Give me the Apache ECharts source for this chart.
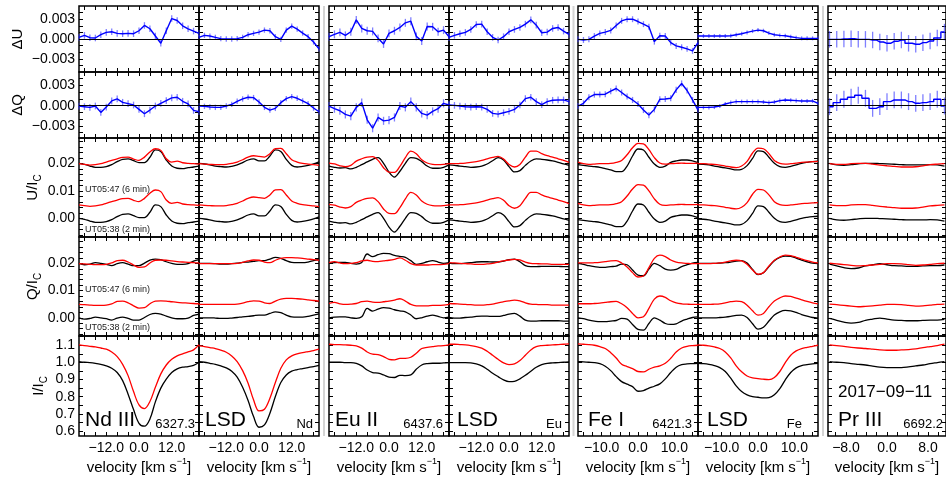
<!DOCTYPE html>
<html><head><meta charset="utf-8">
<script src="https://cdn.jsdelivr.net/npm/echarts@6/dist/echarts.min.js"></script>
<style>html,body{margin:0;padding:0;background:#fff}#c{width:946px;height:479px}</style>
</head><body><div id="c"></div>
<script>
const FONT = "'Liberation Sans', Arial, Helvetica, sans-serif";

// velocity grids (km/s)
const velNdEu = [-22,-20,-18,-16,-14,-12,-10,-8,-6,-4,-2,0,2,4,6,8,10,12,14,16,18,20,22];
const velFe = [-16.5,-15,-13.5,-12,-10.5,-9,-7.5,-6,-4.5,-3,-1.5,0,1.5,3,4.5,6,7.5,9,10.5,12,13.5,15,16.5];
const velPr = [-11.2,-9.8,-8.4,-7,-5.6,-4.2,-2.8,-1.4,0,1.4,2.8,4.2,5.6,7,8.4,9.8,11.2];

// ---- Nd III 6327.3 (values of dU,dQ,U,Q in units of 1e-3) ----
const dU_NdIII = [0.25,0.55,0.2,0.15,0.65,1.0,1.1,0.85,0.8,0.85,0.8,1.25,2.05,1.55,0.45,-0.65,1.25,3.1,2.8,2.0,1.55,1.2,0.85];
const dQ_NdIII = [-0.05,-0.15,-0.25,-0.05,-1.0,-0.2,0.7,1.0,0.5,0.3,0.1,-0.55,-1.2,-0.65,-0.05,0.35,0.75,1.15,1.25,0.65,0.25,-0.7,-0.9];
const Ub_NdIII = [0,-0.35,-1.0,-1.45,-1.45,-1.2,-0.5,0.6,1.45,1.6,0.95,0.25,0.25,2.2,4.85,4.25,1.2,-1.0,-1.8,-1.95,-1.6,-1.35,-1.0];
const Ur_NdIII = [4.85,4.6,4.35,4.5,4.85,5.45,6.05,6.65,7.15,7.25,6.55,6.05,7.25,9.1,10.3,9.7,6.65,5.45,5.8,5.2,4.95,4.85,4.7];
const Qb_NdIII = [0,-0.5,-0.25,0.25,0,-0.35,-0.85,-0.1,0.25,-0.25,-0.85,-0.85,0.1,1.2,1.6,1.35,0.6,0,-0.35,-0.35,-0.1,0.85,1.35];
const Qr_NdIII = [4.9,4.8,4.65,4.55,4.55,4.65,5.15,6.0,6.15,5.5,4.4,3.55,3.7,5.15,6.15,6.25,6.15,5.9,5.65,5.5,5.4,5.25,5.15];
const Ib_NdIII = [1.005,1.001,0.999,0.995,0.989,0.98,0.966,0.941,0.894,0.815,0.725,0.645,0.628,0.67,0.77,0.85,0.902,0.941,0.962,0.972,0.976,0.983,1.001];
const Ir_NdIII = [1.102,1.098,1.094,1.09,1.084,1.077,1.061,1.034,0.989,0.923,0.83,0.752,0.731,0.772,0.855,0.933,0.985,1.018,1.038,1.05,1.061,1.073,1.104];

// ---- LSD Nd ----
const dU_NdLSD = [0.25,0.55,0.45,0.25,0.05,0,0,0.05,0.25,0.65,0.85,1.05,1.35,1.25,0.35,-0.05,1.35,1.95,1.5,0.9,0.35,-0.45,-1.5];
const dQ_NdLSD = [-0.05,-0.1,-0.2,-0.25,-0.25,-0.05,0.2,0.65,1.0,1.25,1.2,0.55,-0.25,-0.65,-0.4,0.45,1.05,1.35,1.1,0.7,0.3,-0.35,-0.9];
const Ub_NdLSD = [0,-0.25,-0.6,-1.0,-1.2,-1.35,-1.1,-0.6,0.25,1.2,1.6,0.85,0.85,2.65,4.85,4.25,1.45,-0.75,-1.35,-1.1,-0.75,-0.25,0.5];
const Ur_NdLSD = [4.85,4.7,4.6,4.5,4.5,4.6,4.95,5.45,6.3,7.25,7.75,7.5,7.25,8.5,10.3,10.4,8.5,6.3,5.45,4.95,4.7,4.5,4.25];
const Qb_NdLSD = [0,0,0,-0.1,-0.25,-0.25,-0.1,0.1,0.35,0.5,0.75,1.0,1.0,1.6,2.2,1.85,1.0,0.35,0.25,0.25,0.5,1.0,1.45];
const Qr_NdLSD = [4.9,4.9,4.9,4.9,4.9,4.9,4.9,5.0,5.4,5.9,6.25,6.15,5.5,5.25,6.15,6.85,7.1,7.1,7.0,6.85,6.6,6.35,6.15];
const Ib_NdLSD = [1.005,1.001,0.995,0.989,0.98,0.968,0.949,0.914,0.855,0.778,0.684,0.622,0.636,0.704,0.801,0.883,0.927,0.949,0.958,0.964,0.97,0.976,0.983];
const Ir_NdLSD = [1.096,1.092,1.086,1.081,1.071,1.059,1.038,1.005,0.952,0.879,0.782,0.717,0.727,0.791,0.883,0.966,1.015,1.038,1.05,1.057,1.063,1.069,1.077];

// ---- Eu II 6437.6 ----
const dU_EuII = [0.35,0.7,1.0,0.55,1.1,2.9,1.6,1.25,1.15,0.1,-0.75,0.85,1.25,1.75,2.45,2.7,0.4,-0.3,1.9,1.85,1.1,1.35,0.35];
const dQ_EuII = [-0.05,-0.45,-0.75,-1.3,-1.55,-0.25,0.45,-2.1,-3.35,-1.75,-2.25,-2.15,-1.75,-0.05,-0.25,0.6,-0.25,-1.15,-1.4,-0.85,-0.45,0.35,0.1];
const Ub_EuII = [-1.0,-1.45,-1.7,-1.6,-2.05,-1.45,-0.5,0.5,1.45,2.05,0,-3.2,-5.0,-2.9,0,2.05,1.8,0.6,-1.0,-1.8,-1.8,-1.45,-0.6];
const Ur_EuII = [5.1,4.75,4.1,3.75,4.25,5.8,6.65,7.25,7.4,6.05,3.4,1.8,1.7,3.9,7.05,9.45,8.5,6.3,5.1,4.6,4.5,4.6,4.85];
const Qb_EuII = [0,0.25,0.35,0.35,0,-0.25,0.35,3.45,2.45,3.2,3.7,3.55,2.95,2.55,2.2,1.0,-0.35,0,0.6,1.0,0.5,0,0.25];
const Qr_EuII = [5.25,5.65,5.15,4.9,5.0,5.25,5.9,6.15,5.75,5.65,5.9,6.15,6.5,7.0,6.15,4.9,4.4,4.4,4.4,4.55,4.55,4.65,4.9];
const Ib_EuII = [1.001,1.001,1.001,0.999,0.999,0.995,0.98,0.956,0.941,0.937,0.927,0.914,0.912,0.925,0.923,0.927,0.96,0.985,0.993,0.995,0.995,0.997,0.999];
const Ir_EuII = [1.106,1.104,1.104,1.102,1.1,1.096,1.083,1.061,1.048,1.046,1.034,1.018,1.015,1.024,1.024,1.03,1.053,1.081,1.088,1.092,1.096,1.098,1.102];

// ---- LSD Eu ----
const dU_EuLSD = [0.25,0.55,0.8,1.0,1.45,2.2,2.25,1.1,0.25,-0.15,0.35,1.1,1.45,1.75,2.25,2.9,2.1,0.95,1.05,1.6,1.75,1.2,0.7];
const dQ_EuLSD = [0.1,0.05,-0.05,-0.15,-0.2,-0.15,-0.2,-0.55,-1.15,-1.25,-1.05,-0.85,-0.55,0.1,1.05,1.25,0.6,0.15,0.6,0.8,0.85,0.85,0.6];
const Ub_EuLSD = [-0.6,-0.75,-1.0,-1.2,-1.45,-1.35,-1.0,-0.25,0.95,2.05,1.2,-1.2,-3.15,-2.65,-0.75,0.85,1.6,1.45,1.2,0.85,0.35,-0.25,-0.75];
const Ur_EuLSD = [4.85,4.85,4.95,5.1,5.35,5.6,6.05,6.65,7.15,7.5,6.55,4.6,3.65,4.6,7.25,9.45,9.45,8.5,7.75,7.25,6.65,6.05,5.35];
const Qb_EuLSD = [0.1,-0.1,-0.1,0.1,0.25,0.5,0.6,0.6,0.5,0.5,0.85,1.35,1.6,0.6,-0.85,-1.2,-1.2,-1.1,-1.1,-1.1,-1.1,-1.2,-1.2];
const Qr_EuLSD = [5.25,5.15,5.0,4.9,4.8,4.65,4.65,4.8,5.0,5.5,5.9,6.25,6.5,6.25,5.5,5.0,4.9,4.8,4.8,4.65,4.65,4.65,4.65];
const Ib_EuLSD = [0.999,0.999,0.999,0.999,0.997,0.991,0.98,0.96,0.937,0.917,0.898,0.888,0.89,0.904,0.925,0.949,0.972,0.987,0.995,0.997,0.999,1.001,1.003];
const Ir_EuLSD = [1.106,1.106,1.104,1.102,1.098,1.092,1.083,1.065,1.042,1.018,0.997,0.987,0.991,1.011,1.042,1.073,1.092,1.098,1.1,1.102,1.104,1.106,1.108];

// ---- Fe I 6421.3 ----
const dU_FeI = [-0.05,-0.15,-0.05,0.45,0.85,1.05,1.3,2.05,2.75,3.0,3.0,2.65,2.25,1.85,-0.4,0.5,0.45,-0.55,-1.05,-1.25,-1.5,-1.8,-0.55];
const dQ_FeI = [-0.05,0.35,1.25,1.65,1.65,1.7,2.15,2.55,1.95,1.35,0.85,0.25,-0.65,-1.4,-0.55,0.95,1.0,1.1,2.35,3.3,2.25,0.85,-0.65];
const Ub_FeI = [-0.5,-0.75,-1.0,-1.2,-1.45,-1.95,-2.4,-3.05,-3.05,-1.0,2.65,5.2,4.85,2.2,-0.25,-1.45,-1.0,0.35,0.85,1.2,1.2,0.85,0.25];
const Ur_FeI = [5.45,4.85,4.6,4.7,4.85,4.85,4.95,5.35,6.05,8.1,10.65,12.25,12.1,9.95,7.05,5.1,4.7,4.85,4.95,5.1,4.95,4.95,5.1];
const Qb_FeI = [0,-0.35,-0.85,-1.2,-1.45,-1.45,-1.2,-1.0,-0.25,-0.5,-2.45,-4.3,-4.55,-2.1,0,-0.85,-2.1,-2.45,-2.2,-1.2,-0.5,0.1,0.35];
const Qr_FeI = [5.15,5.15,5.15,5.25,5.4,5.65,5.9,6.0,5.15,3.7,1.6,0,0.35,3.45,6.85,8.0,7.5,6.25,5.5,5.15,5.0,4.9,4.9];
const Ib_FeI = [1.005,1.003,1.001,0.999,0.993,0.978,0.952,0.917,0.888,0.873,0.859,0.832,0.836,0.85,0.861,0.875,0.904,0.941,0.972,0.987,0.991,0.993,0.995];
const Ir_FeI = [1.108,1.106,1.104,1.1,1.092,1.081,1.057,1.026,0.989,0.976,0.964,0.947,0.945,0.96,0.972,0.98,0.995,1.024,1.061,1.084,1.094,1.098,1.1];

// ---- LSD Fe ----
const dU_FeLSD = [0.45,0.45,0.45,0.45,0.45,0.45,0.5,0.65,0.8,1.0,1.2,1.35,1.25,0.9,0.65,0.55,0.5,0.35,0.2,0.1,0.1,0.1,0.1];
const dQ_FeLSD = [-0.25,-0.25,-0.25,-0.2,-0.05,0.25,0.45,0.6,0.6,0.6,0.6,0.6,0.55,0.45,0.55,0.75,0.85,0.8,0.75,0.7,0.7,0.7,0.35];
const Ub_FeLSD = [-0.25,-0.35,-0.6,-1.0,-1.35,-1.7,-2.05,-2.4,-2.2,-0.85,1.8,4.5,4.25,2.2,0,-1.2,-1.45,-1.1,-0.6,0,0.35,0.6,0.75];
const Ur_FeLSD = [4.85,4.85,4.7,4.6,4.35,4.0,3.65,3.4,4.0,5.7,8.75,10.55,10.3,8.5,6.05,4.95,4.7,4.85,5.1,5.35,5.45,5.6,5.7];
const Qb_FeLSD = [0,0,0,0,0.1,0.25,0.5,0.85,1.0,0.1,-2.2,-4.15,-3.45,-1.2,1.0,2.2,2.7,2.55,1.95,1.2,0.6,0.1,-0.1];
const Qr_FeLSD = [4.9,4.9,4.9,5.0,5.15,5.5,5.9,6.15,5.9,4.65,2.55,1.0,1.6,4.05,6.15,7.35,8.0,7.85,7.25,6.6,6.0,5.5,5.15];
const Ib_FeLSD = [0.995,0.993,0.989,0.982,0.97,0.947,0.908,0.863,0.83,0.811,0.801,0.797,0.793,0.795,0.811,0.847,0.898,0.941,0.968,0.982,0.987,0.991,0.995];
const Ir_FeLSD = [1.102,1.1,1.096,1.09,1.081,1.061,1.026,0.98,0.945,0.921,0.91,0.906,0.902,0.9,0.912,0.947,0.999,1.042,1.067,1.081,1.088,1.094,1.1];

// ---- Pr III 6692.2 ----
const dU_PrIII = [-0.05,-0.05,0,0.05,-0.05,-0.05,-0.15,-0.45,-0.65,-0.35,-0.15,-0.65,-0.8,-0.55,-0.3,0.15,1.05];
const dQ_PrIII = [-0.15,0.45,0.95,1.25,1.55,1.1,-0.4,-0.15,0.6,0.85,0.85,0.6,0.35,0.45,0.6,0.95,-0.05];
const Ub_PrIII = [0,-0.6,-0.7,-0.5,-0.2,0,0,-0.1,-0.2,-0.35,-0.5,-0.6,-0.6,-0.6,-0.5,-0.6,-1.0];
const Ur_PrIII = [4.85,4.6,4.6,4.85,4.95,4.95,4.7,4.35,4.1,3.9,3.65,3.65,3.75,4.1,4.5,4.7,4.85];
const Qb_PrIII = [-0.25,-0.95,-1.6,-1.95,-1.7,-0.95,-0.5,-0.1,-0.5,-0.85,-0.95,-1.1,-1.1,-0.95,-0.85,-0.85,-0.6];
const Qr_PrIII = [5.05,4.8,4.55,4.3,4.05,4.2,4.4,4.65,4.9,4.9,4.8,4.55,4.3,4.4,4.65,4.9,5.05];
const Ib_PrIII = [1.005,1.001,0.999,0.993,0.989,0.985,0.978,0.972,0.97,0.97,0.97,0.974,0.98,0.985,0.993,0.999,1.005];
const Ir_PrIII = [1.102,1.098,1.094,1.088,1.084,1.081,1.077,1.073,1.071,1.071,1.073,1.075,1.079,1.086,1.092,1.098,1.106];

// error-bar half sizes of dU/dQ per panel (1e-3)
const errBars = [0.5, 0.4, 0.6, 0.5, 0.45, 0.3, 1.25];
// vertical offsets used to overplot the two observations (1e-3)
const OFFSET_BLACK_TOP = 20, OFFSET_RED_TOP = 15;

const panelNames = ['Nd III','LSD','Eu II','LSD','Fe I','LSD','Pr III'];
const panelTags = ['6327.3','Nd','6437.6','Eu','6421.3','Fe','6692.2'];
const dateLabel = '2017\u221209\u221211';
const obsLabels = ['UT05:47 (6 min)','UT05:38 (2 min)'];

const xLabNdEu = [-12,0,12], xLabFe = [-10,0,10], xLabPr = [-8,0,8];
const xTickNdEu = [-20,-16,-12,-8,-4,0,4,8,12,16,20];
const xTickFe = [-15,-12.5,-10,-7.5,-5,-2.5,0,2.5,5,7.5,10,12.5,15];
const xTickPr = [-10,-8,-6,-4,-2,0,2,4,6,8,10];

const columns = [
  {left:79, width:120, xr:[-22,22], vel:velNdEu, lab:xLabNdEu, ticks:xTickNdEu, stepD:false,
   d:{dU:dU_NdIII,dQ:dQ_NdIII,Ub:Ub_NdIII,Ur:Ur_NdIII,Qb:Qb_NdIII,Qr:Qr_NdIII,Ib:Ib_NdIII,Ir:Ir_NdIII}},
  {left:199, width:120, xr:[-22,22], vel:velNdEu, lab:xLabNdEu, ticks:xTickNdEu, stepD:false,
   d:{dU:dU_NdLSD,dQ:dQ_NdLSD,Ub:Ub_NdLSD,Ur:Ur_NdLSD,Qb:Qb_NdLSD,Qr:Qr_NdLSD,Ib:Ib_NdLSD,Ir:Ir_NdLSD}},
  {left:329, width:120, xr:[-22,22], vel:velNdEu, lab:xLabNdEu, ticks:xTickNdEu, stepD:false,
   d:{dU:dU_EuII,dQ:dQ_EuII,Ub:Ub_EuII,Ur:Ur_EuII,Qb:Qb_EuII,Qr:Qr_EuII,Ib:Ib_EuII,Ir:Ir_EuII}},
  {left:449, width:120, xr:[-22,22], vel:velNdEu, lab:xLabNdEu, ticks:xTickNdEu, stepD:false,
   d:{dU:dU_EuLSD,dQ:dQ_EuLSD,Ub:Ub_EuLSD,Ur:Ur_EuLSD,Qb:Qb_EuLSD,Qr:Qr_EuLSD,Ib:Ib_EuLSD,Ir:Ir_EuLSD}},
  {left:578, width:120, xr:[-16.5,16.5], vel:velFe, lab:xLabFe, ticks:xTickFe, stepD:false,
   d:{dU:dU_FeI,dQ:dQ_FeI,Ub:Ub_FeI,Ur:Ur_FeI,Qb:Qb_FeI,Qr:Qr_FeI,Ib:Ib_FeI,Ir:Ir_FeI}},
  {left:698, width:120, xr:[-16.5,16.5], vel:velFe, lab:xLabFe, ticks:xTickFe, stepD:false,
   d:{dU:dU_FeLSD,dQ:dQ_FeLSD,Ub:Ub_FeLSD,Ur:Ur_FeLSD,Qb:Qb_FeLSD,Qr:Qr_FeLSD,Ib:Ib_FeLSD,Ir:Ir_FeLSD}},
  {left:828, width:121, xr:[-11.5,11.5], vel:velPr, lab:xLabPr, ticks:xTickPr, stepD:true,
   d:{dU:dU_PrIII,dQ:dQ_PrIII,Ub:Ub_PrIII,Ur:Ur_PrIII,Qb:Qb_PrIII,Qr:Qr_PrIII,Ib:Ib_PrIII,Ir:Ir_PrIII}}
];

const minus = s => String(s).replace('-', '\u2212');
const rich = {
  a:{fontSize:15, fontFamily:FONT, color:'#000', lineHeight:18, verticalAlign:'bottom'},
  s:{fontSize:10, fontFamily:FONT, color:'#000', lineHeight:12, verticalAlign:'bottom', padding:[0,0,-3,0]},
  p:{fontSize:9, fontFamily:FONT, color:'#000', lineHeight:18, verticalAlign:'top'}
};
const rows = [
  {top:6, h:66, min:-5, max:5, kind:'d', key:'dU', name:'{a|\u0394U}', gap:54,
   labels:[-3,0,3], ticks:[-4,-3,-2,-1,0,1,2,3,4], fmt:v=>minus((v/1000).toFixed(3))},
  {top:72, h:66, min:-4.8, max:5, kind:'d', key:'dQ', name:'{a|\u0394Q}', gap:54,
   labels:[-3,0,3], ticks:[-4,-3,-2,-1,0,1,2,3,4], fmt:v=>minus((v/1000).toFixed(3))},
  {top:138, h:99, min:-6.8, max:29.2, kind:'p', kb:'Ub', kr:'Ur', name:'{a|U/I}{s|C}', gap:39,
   labels:[0,10,20], ticks:[-6,-4,-2,0,2,4,6,8,10,12,14,16,18,20,22,24,26,28], fmt:v=>minus((v/1000).toFixed(2))},
  {top:237, h:99, min:-6.7, max:29.7, kind:'p', kb:'Qb', kr:'Qr', name:'{a|Q/I}{s|C}', gap:39,
   labels:[0,10,20], ticks:[-6,-4,-2,0,2,4,6,8,10,12,14,16,18,20,22,24,26,28], fmt:v=>minus((v/1000).toFixed(2))},
  {top:336, h:100, min:0.571, max:1.154, kind:'i', name:'{a|I/I}{s|C}', gap:33,
   labels:[0.6,0.7,0.8,0.9,1.0,1.1], ticks:[0.6,0.65,0.7,0.75,0.8,0.85,0.9,0.95,1.0,1.05,1.1,1.15], fmt:v=>v.toFixed(1)}
];

const grids=[], xAxes=[], yAxes=[], series=[];
const tickStyle = {color:'#000', width:1};
rows.forEach((row, r) => {
  const isBottom = r === rows.length - 1;
  columns.forEach((col, c) => {
    const gi = grids.length;
    grids.push({left:col.left, top:row.top, width:col.width, height:row.h, show:true,
      borderColor:'#000', borderWidth:1.5, backgroundColor:'rgba(0,0,0,0)'});
    const xi = xAxes.length;
    xAxes.push({gridIndex:gi, type:'value', position:'bottom', min:col.xr[0], max:col.xr[1],
      axisLine:{show:false, onZero:false}, splitLine:{show:false},
      axisTick:{show:true, inside:true, length:4, customValues:col.ticks, lineStyle:tickStyle},
      axisLabel:{show:isBottom, customValues:col.lab, formatter:v=>minus(v.toFixed(1)), margin:5,
        fontSize:14, color:'#000', fontFamily:FONT},
      name: isBottom ? '{a|velocity [km s}{p|\u22121}{a|]}' : '', nameLocation:'middle', nameGap:21,
      nameTextStyle:{rich:rich}});
    xAxes.push({gridIndex:gi, type:'value', position:'top', min:col.xr[0], max:col.xr[1],
      axisLine:{show:false, onZero:false}, splitLine:{show:false},
      axisTick:{show:true, inside:true, length:4, customValues:col.ticks, lineStyle:tickStyle},
      axisLabel:{show:false}});
    const yi = yAxes.length;
    yAxes.push({gridIndex:gi, type:'value', position:'left', min:row.min, max:row.max,
      axisLine:{show:false, onZero:false}, splitLine:{show:false},
      axisTick:{show:true, inside:true, length:4, customValues:row.ticks, lineStyle:tickStyle},
      axisLabel:{show:c===0, customValues:row.labels, formatter:row.fmt, margin:4,
        fontSize:14, color:'#000', fontFamily:FONT},
      name: c===0 ? row.name : '', nameLocation:'middle', nameRotate:90, nameGap:row.gap,
      nameTextStyle:{rich:rich}});
    yAxes.push({gridIndex:gi, type:'value', position:'right', min:row.min, max:row.max,
      axisLine:{show:false, onZero:false}, splitLine:{show:false},
      axisTick:{show:true, inside:true, length:4, customValues:row.ticks, lineStyle:tickStyle},
      axisLabel:{show:false}});

    const vel = col.vel;
    const pts = (arr, off) => vel.map((v, i) => [v, arr[i] + (off || 0)]);
    const base = {xAxisIndex:xi, yAxisIndex:yi, silent:true, animation:false, symbol:'none', showSymbol:false};
    if (row.kind === 'd') {
      const arr = col.d[row.key];
      const err = errBars[c];
      series.push({type:'custom', xAxisIndex:xi, yAxisIndex:yi, silent:true, animation:false, z:2,
        encode:{x:0, y:1},
        data: vel.map((v, i) => [v, arr[i], err]),
        renderItem:(params, api) => {
          const x = api.value(0), y = api.value(1), e = api.value(2);
          const p1 = api.coord([x, y - e]), p2 = api.coord([x, y + e]);
          return {type:'line', shape:{x1:p1[0], y1:p1[1], x2:p2[0], y2:p2[1]},
            style:{stroke:'rgba(60,60,255,0.65)', lineWidth:1.3}};
        },
        markLine:{silent:true, symbol:'none', animation:false, label:{show:false},
          lineStyle:{color:'#000', width:1, type:'solid'}, data:[{yAxis:0}]}
      });
      series.push(Object.assign({type:'line', z:3, data:pts(arr), step: col.stepD ? 'middle' : false,
        lineStyle:{color:'#0000ff', width:1.4}}, base));
    } else if (row.kind === 'p') {
      const b = col.d[row.kb], rd = col.d[row.kr];
      const sm = 0.35;
      series.push(Object.assign({type:'line', z:3, data:pts(b), smooth:sm, lineStyle:{color:'#000', width:1.3}}, base));
      series.push(Object.assign({type:'line', z:3, data:pts(b, OFFSET_BLACK_TOP), smooth:sm, lineStyle:{color:'#000', width:1.3}}, base));
      series.push(Object.assign({type:'line', z:4, data:pts(rd), smooth:sm, lineStyle:{color:'#ff0000', width:1.3}}, base));
      series.push(Object.assign({type:'line', z:4, data:pts(rd, OFFSET_RED_TOP), smooth:sm, lineStyle:{color:'#ff0000', width:1.3}}, base));
    } else {
      series.push(Object.assign({type:'line', z:3, data:pts(col.d.Ib), smooth:0.35, lineStyle:{color:'#000', width:1.3}}, base));
      series.push(Object.assign({type:'line', z:4, data:pts(col.d.Ir), smooth:0.35, lineStyle:{color:'#ff0000', width:1.3}}, base));
    }
  });
});

// text annotations and group separators
const graphics = [];
[324, 573.5, 823].forEach(x => {
  graphics.push({type:'line', silent:true, z:-1, shape:{x1:x, y1:6, x2:x, y2:436},
    style:{stroke:'#d4d4d4', lineWidth:2}});
});
const leftX = [85, 205, 335, 457, 588, 707, 838];
const rightX = [195, 313, 443, 562, 692, 802, 943];
panelNames.forEach((t, i) => {
  graphics.push({type:'text', x:leftX[i], y:420.5, silent:true,
    style:{text:t, font:'21px ' + FONT, fill:'#000', align:'left', verticalAlign:'middle'}});
  graphics.push({type:'text', x:rightX[i], y:424, silent:true,
    style:{text:panelTags[i], font:'13px ' + FONT, fill:'#000', align:'right', verticalAlign:'middle'}});
});
graphics.push({type:'text', x:838, y:392.5, silent:true,
  style:{text:dateLabel, font:'17px ' + FONT, fill:'#000', align:'left', verticalAlign:'middle'}});
[[190, 0], [230, 1], [289.5, 0], [328, 1]].forEach(([y, k]) => {
  graphics.push({type:'text', x:85, y:y, silent:true,
    style:{text:obsLabels[k], font:'9px ' + FONT, fill:'#222', align:'left', verticalAlign:'middle'}});
});

const chart = echarts.init(document.getElementById('c'), null, {renderer:'canvas', width:946, height:479});
chart.setOption({
  animation:false,
  backgroundColor:'#fff',
  grid:grids, xAxis:xAxes, yAxis:yAxes, series:series, graphic:graphics
});
</script>
</body></html>
